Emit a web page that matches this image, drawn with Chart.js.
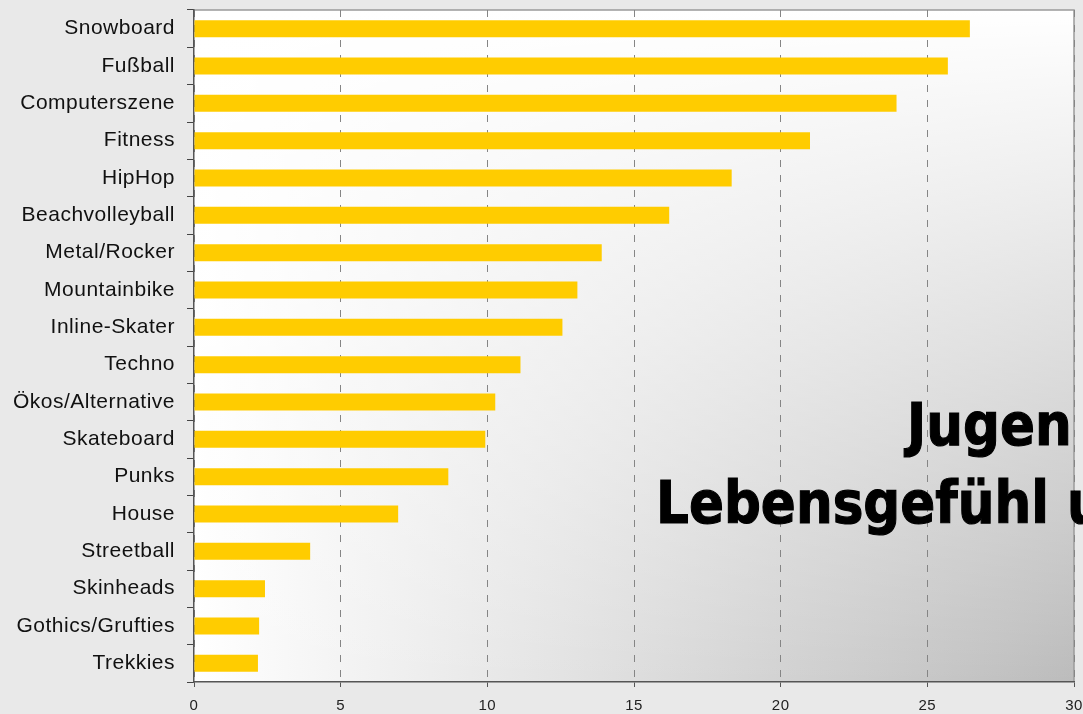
<!DOCTYPE html>
<html>
<head>
<meta charset="utf-8">
<script src="https://cdn.jsdelivr.net/npm/chart.js@4.4.0/dist/chart.umd.min.js"></script>
<style>
  html, body { margin: 0; padding: 0; background: #e9e9e9; }
  #wrap { width: 1083px; height: 714px; position: relative; }
</style>
</head>
<body>
<div id="wrap"><canvas id="barChart"></canvas></div>
<script>
// Jugendszenen, Werte in Prozent
const szenen = [
  "Snowboard", "Fußball", "Computerszene", "Fitness", "HipHop",
  "Beachvolleyball", "Metal/Rocker", "Mountainbike", "Inline-Skater", "Techno",
  "Ökos/Alternative", "Skateboard", "Punks", "House", "Streetball",
  "Skinheads", "Gothics/Grufties", "Trekkies"
];
const werte = [
  26.45, 25.7, 23.95, 21.0, 18.33,
  16.2, 13.9, 13.07, 12.56, 11.13,
  10.27, 9.93, 8.67, 6.96, 3.96,
  2.42, 2.22, 2.18
];
const xTicks = [0, 5, 10, 15, 20, 25, 30];
const titelZeilen = ["Jugen", "Lebensgefühl u"];

const ABSTAND = "0.5px";

// Hintergrund der Zeichenfläche (Verlauf nach unten rechts) + Rahmen oben/rechts
const hintergrundPlugin = {
  id: "hintergrund",
  beforeUpdate(chart) {
    // nach dem Resize setzen, sonst geht der Wert verloren
    chart.ctx.letterSpacing = ABSTAND;
  },
  beforeDraw(chart) {
    const { ctx, chartArea: a } = chart;
    ctx.letterSpacing = ABSTAND;
    ctx.save();
    const w = a.right - a.left, h = a.bottom - a.top;
    // links weiß -> rechts grau
    const gx = ctx.createLinearGradient(a.left, 0, a.right, 0);
    gx.addColorStop(0, "#ffffff");
    gx.addColorStop(1, "#bcbcbc");
    ctx.fillStyle = gx;
    ctx.fillRect(a.left, a.top, w, h);
    // oben weiß darüber, nach unten durchsichtig
    const gy = ctx.createLinearGradient(0, a.top, 0, a.bottom);
    gy.addColorStop(0, "rgba(255,255,255,1)");
    gy.addColorStop(1, "rgba(255,255,255,0)");
    ctx.fillStyle = gy;
    ctx.fillRect(a.left, a.top, w, h);

    ctx.strokeStyle = "#9a9a9a";
    ctx.lineWidth = 1.5;
    ctx.beginPath();
    ctx.moveTo(a.left, a.top);
    ctx.lineTo(a.right, a.top);
    ctx.lineTo(a.right, a.bottom);
    ctx.stroke();
    ctx.restore();
  }
};

// Überschrift der Folie, die über dem Diagramm liegt
const titelPlugin = {
  id: "titel",
  afterDraw(chart) {
    const ctx = chart.ctx;
    ctx.save();
    ctx.letterSpacing = "0px";
    ctx.fillStyle = "#000";
    ctx.strokeStyle = "#000";
    ctx.lineWidth = 1.2;
    ctx.font = "bold 59px 'DejaVu Sans'";
    ctx.textBaseline = "alphabetic";
    const pos = [[907, 445], [656, 523]];
    titelZeilen.forEach((t, i) => {
      ctx.save();
      ctx.translate(pos[i][0], pos[i][1]);
      ctx.scale(0.875, 1);
      ctx.fillText(t, 0, 0);
      ctx.strokeText(t, 0, 0);
      ctx.restore();
    });
    ctx.restore();
  }
};

new Chart(document.getElementById("barChart"), {
  type: "bar",
  data: {
    labels: szenen,
    datasets: [{
      data: werte,
      backgroundColor: "#ffcc00",
      borderWidth: 0,
      barPercentage: 0.455,
      categoryPercentage: 1
    }]
  },
  options: {
    indexAxis: "y",
    responsive: true,
    maintainAspectRatio: false,
    animation: false,
    events: [],
    layout: { padding: { top: 10, right: 9, left: 0, bottom: 0 } },
    plugins: {
      legend: { display: false },
      tooltip: { enabled: false }
    },
    scales: {
      x: {
        min: 0,
        max: 30,
        afterBuildTicks(scale) {
          scale.ticks = xTicks.map(v => ({ value: v }));
        },
        afterFit(scale) {
          scale.height = 32;
          scale.paddingLeft = 0;
          scale.paddingRight = 0;
        },
        border: { display: true, color: "#555", width: 1.5, dash: [7, 8] },
        grid: {
          color: "#858585",
          lineWidth: 1,
          tickBorderDash: [],
          tickColor: "#555",
          tickLength: 5,
          drawTicks: true
        },
        ticks: {
          color: "#222",
          padding: 10,
          maxRotation: 0,
          font: { family: "'Liberation Sans', Arial, sans-serif", size: 15 }
        }
      },
      y: {
        afterFit(scale) {
          scale.width = 194;
          scale.paddingTop = 0;
          scale.paddingBottom = 0;
        },
        border: { display: true, color: "#555", width: 1.5 },
        grid: {
          offset: true,
          drawOnChartArea: false,
          drawTicks: true,
          tickLength: 7,
          tickColor: "#444"
        },
        ticks: {
          color: "#111",
          padding: 12,
          autoSkip: false,
          font: { family: "'Liberation Sans', Arial, sans-serif", size: 21 }
        }
      }
    }
  },
  plugins: [hintergrundPlugin, titelPlugin]
});
</script>
</body>
</html>
